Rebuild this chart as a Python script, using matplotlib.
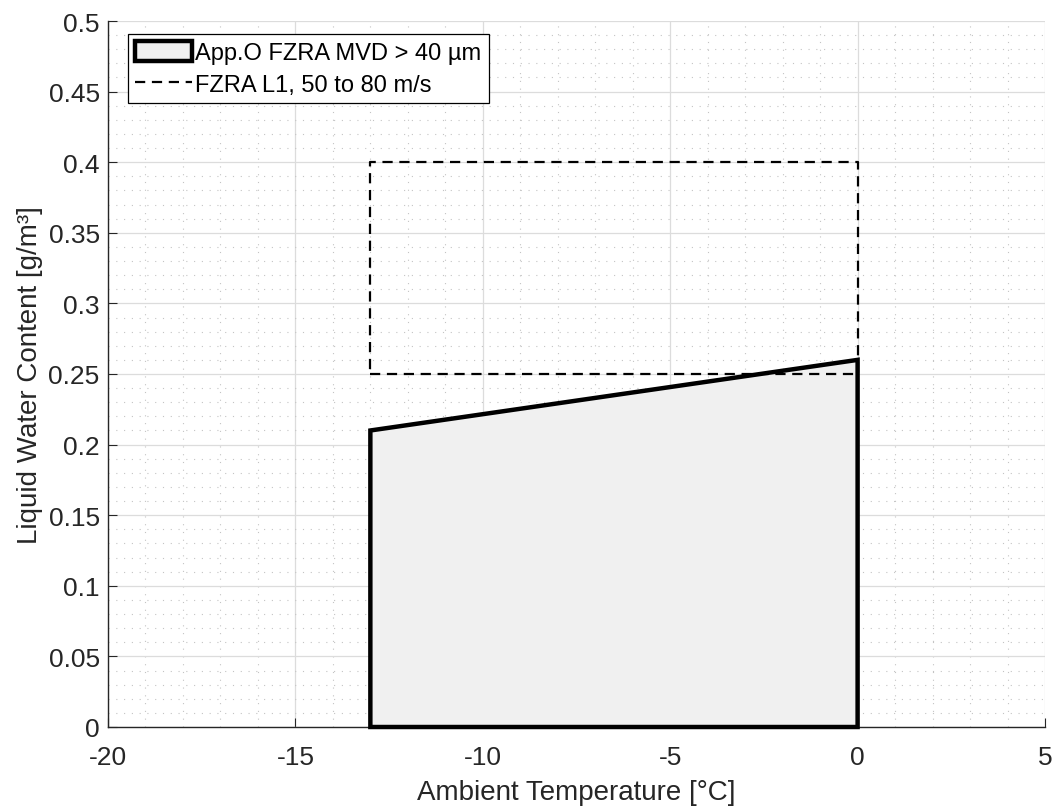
import numpy as np
import matplotlib.pyplot as plt
from matplotlib.ticker import MultipleLocator

plt.rcParams['font.family'] = ['Liberation Sans', 'DejaVu Sans']
plt.rcParams['axes.unicode_minus'] = False

# App. O freezing rain envelope, MVD > 40 um
envTemp = [-13, -13, 0, 0]
envLWC = [0, 0.21, 0.26, 0]

# FZRA L1 box, 50 to 80 m/s
boxTemp = [-13, 0, 0, -13, -13]
boxLWC = [0.25, 0.25, 0.4, 0.4, 0.25]

yTicks = np.arange(0, 0.51, 0.05)
yTickLabels = ['0', '0.05', '0.1', '0.15', '0.2', '0.25', '0.3', '0.35', '0.4', '0.45', '0.5']

fig = plt.figure(figsize=(10.55, 8.12), dpi=100)
ax = fig.add_axes([108/1055, 84/812, 937/1055, 706/812])

ax.fill(envTemp, envLWC, facecolor='#f0f0f0', edgecolor='k', linewidth=3.2,
        label='App.O FZRA MVD > 40 µm', zorder=3, clip_on=False)
ax.plot(boxTemp, boxLWC, 'k--', linewidth=1.6, dashes=(4.6, 3.0),
        label='FZRA L1, 50 to 80 m/s', zorder=4)

ax.set_xlim(-20, 5)
ax.set_ylim(0, 0.5)
ax.xaxis.set_major_locator(MultipleLocator(5))
ax.xaxis.set_minor_locator(MultipleLocator(1))
ax.yaxis.set_minor_locator(MultipleLocator(0.01))
ax.set_yticks(yTicks)
ax.set_yticklabels(yTickLabels)

ax.grid(which='major', color='#dcdcdc', linewidth=0.9, zorder=0)
ax.grid(which='minor', color='#c4c4c4', linestyle=(0, (1, 6)), linewidth=0.8, zorder=0)
ax.set_axisbelow(True)

for s in ['top', 'right']:
    ax.spines[s].set_visible(False)
for s in ['left', 'bottom']:
    ax.spines[s].set_color('#262626')
    ax.spines[s].set_linewidth(1.0)
ax.tick_params(which='major', direction='in', length=6.5, colors='#262626', labelsize=19)
ax.tick_params(axis='x', pad=13)
ax.tick_params(axis='y', pad=6)
ax.tick_params(which='minor', length=0)

ax.set_xlabel('Ambient Temperature [°C]', fontsize=20, color='#262626', labelpad=7)
ax.set_ylabel('Liquid Water Content [g/m³]', fontsize=20, color='#262626', labelpad=4)

leg = ax.legend(loc='upper left', bbox_to_anchor=(20/937, 693/706), borderaxespad=0,
                fontsize=17, frameon=True, fancybox=False, edgecolor='k', framealpha=1,
                borderpad=0.3, handlelength=2.4, handleheight=0.95,
                handletextpad=0.15, labelspacing=0.35)
leg.get_frame().set_linewidth(0.9)

fig.savefig('out.png', dpi=100)
